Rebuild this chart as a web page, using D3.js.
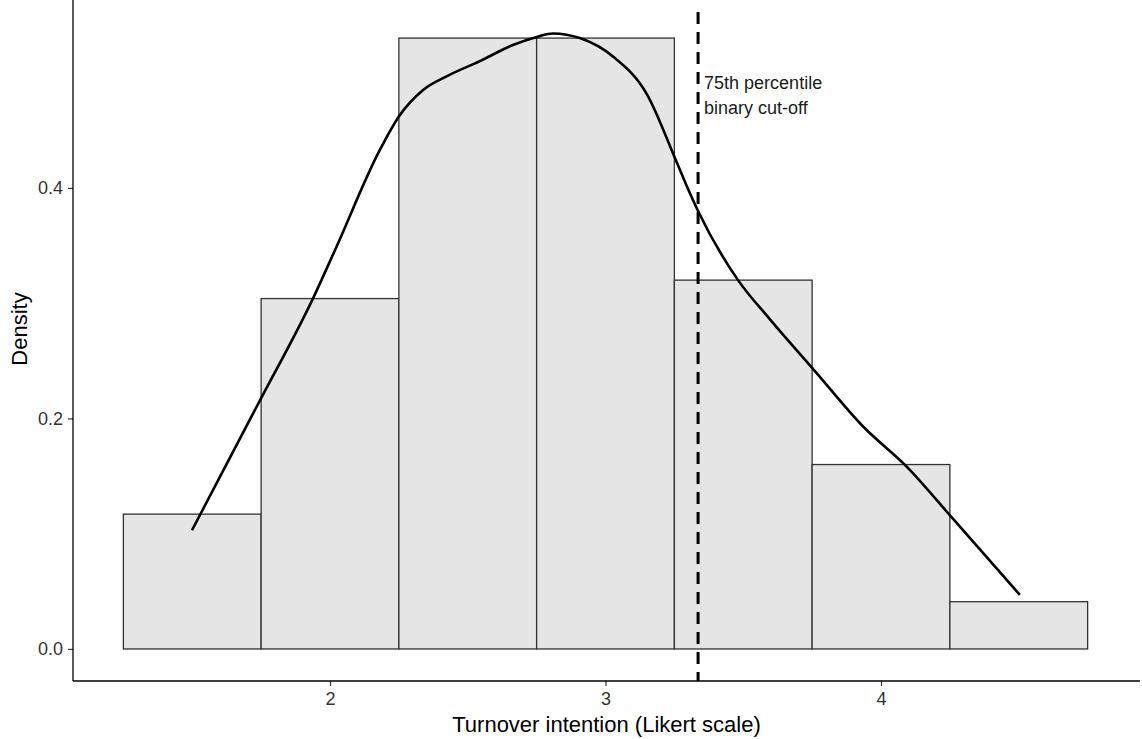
<!DOCTYPE html>
<html>
<head>
<meta charset="utf-8">
<script src="https://cdn.jsdelivr.net/npm/d3@7"></script>
<style>
  body { margin: 0; background: #fff; }
  text { font-family: "Liberation Sans", Arial, sans-serif; }
</style>
</head>
<body>
<div id="chart"></div>
<script>
// histogram bins (width 0.5) and their densities
const binCenters = [1.5, 2, 2.5, 3, 3.5, 4, 4.5];
const binDensity = [0.117, 0.304, 0.530, 0.530, 0.320, 0.160, 0.041];
const binWidth = 0.5;

// kernel density curve
const curveX = [1.499, 1.742, 1.938, 2.018, 2.181, 2.250, 2.338, 2.425, 2.544, 2.664, 2.751, 2.809, 2.907, 3.027, 3.151, 3.252, 3.289, 3.336, 3.481, 3.597, 3.757, 3.935, 4.094, 4.261, 4.504];
const curveY = [0.103, 0.214, 0.304, 0.346, 0.433, 0.462, 0.485, 0.497, 0.510, 0.524, 0.531, 0.534, 0.530, 0.514, 0.481, 0.426, 0.405, 0.380, 0.320, 0.286, 0.242, 0.193, 0.158, 0.113, 0.047];

const cutoff = 3.336;
const cutoffLabel = ["75th percentile", "binary cut-off"];
const xTicks = [2, 3, 4];
const yTicks = [0.0, 0.2, 0.4];

const width = 1142;
const height = 739;
const panel = { left: 73, right: 1140, top: -23, bottom: 681 };

const svg = d3.select("#chart")
    .append("svg")
    .attr("width", width)
    .attr("height", height);

svg.append("rect")
    .attr("width", width)
    .attr("height", height)
    .attr("fill", "#fff");

const x = d3.scaleLinear()
    .domain([2 - (330 - panel.left) / 275.5, 2 + (panel.right - 330) / 275.5])
    .range([panel.left, panel.right]);

const y = d3.scaleLinear()
    .domain([-0.0278, 0.583])
    .range([panel.bottom, panel.top]);

// Bars
svg.append("g")
    .selectAll("rect")
    .data(binCenters)
    .join("rect")
    .attr("x", d => x(d - binWidth / 2))
    .attr("width", x(binWidth) - x(0))
    .attr("y", (d, i) => y(binDensity[i]))
    .attr("height", (d, i) => y(0) - y(binDensity[i]))
    .attr("fill", "#e5e5e5")
    .attr("stroke", "#333")
    .attr("stroke-width", 1.3);

// Density curve
const line = d3.line()
    .x(d => x(d[0]))
    .y(d => y(d[1]))
    .curve(d3.curveMonotoneX);

svg.append("path")
    .datum(d3.zip(curveX, curveY))
    .attr("d", line)
    .attr("fill", "none")
    .attr("stroke", "#000")
    .attr("stroke-width", 2.6);

// Cut-off line
svg.append("line")
    .attr("x1", x(cutoff))
    .attr("x2", x(cutoff))
    .attr("y1", 12)
    .attr("y2", panel.bottom)
    .attr("stroke", "#000")
    .attr("stroke-width", 3)
    .attr("stroke-dasharray", "12,8");

svg.append("g")
    .selectAll("text")
    .data(cutoffLabel)
    .join("text")
    .attr("x", x(cutoff) + 6)
    .attr("y", (d, i) => 89 + i * 25)
    .style("font-size", "18px")
    .style("fill", "#1a1a1a")
    .text(d => d);

// Axes
const xAxis = svg.append("g")
    .attr("transform", `translate(0, ${panel.bottom})`)
    .call(d3.axisBottom(x).tickValues(xTicks).tickSize(5).tickPadding(6).tickFormat(d3.format("d")));

const yAxis = svg.append("g")
    .attr("transform", `translate(${panel.left}, 0)`)
    .call(d3.axisLeft(y).tickValues(yTicks).tickSize(5).tickPadding(5).tickFormat(d3.format(".1f")));

[xAxis, yAxis].forEach(g => {
    g.select(".domain").remove();
    g.selectAll(".tick line").attr("stroke", "#333").attr("stroke-width", 1.2);
    g.selectAll(".tick text")
        .style("font-size", "18px")
        .style("font-family", "'Liberation Sans', Arial, sans-serif")
        .attr("fill", "#333");
});

svg.append("line")
    .attr("x1", panel.left).attr("x2", panel.right)
    .attr("y1", panel.bottom).attr("y2", panel.bottom)
    .attr("stroke", "#000").attr("stroke-width", 1.3);

svg.append("line")
    .attr("x1", panel.left).attr("x2", panel.left)
    .attr("y1", 0).attr("y2", panel.bottom)
    .attr("stroke", "#000").attr("stroke-width", 1.3);

// Axis titles
svg.append("text")
    .attr("x", (panel.left + panel.right) / 2)
    .attr("y", 732)
    .attr("text-anchor", "middle")
    .style("font-size", "22px")
    .style("fill", "#000")
    .text("Turnover intention (Likert scale)");

svg.append("text")
    .attr("transform", `translate(27, ${(panel.top + panel.bottom) / 2}) rotate(-90)`)
    .attr("text-anchor", "middle")
    .style("font-size", "22px")
    .style("fill", "#000")
    .text("Density");
</script>
</body>
</html>
